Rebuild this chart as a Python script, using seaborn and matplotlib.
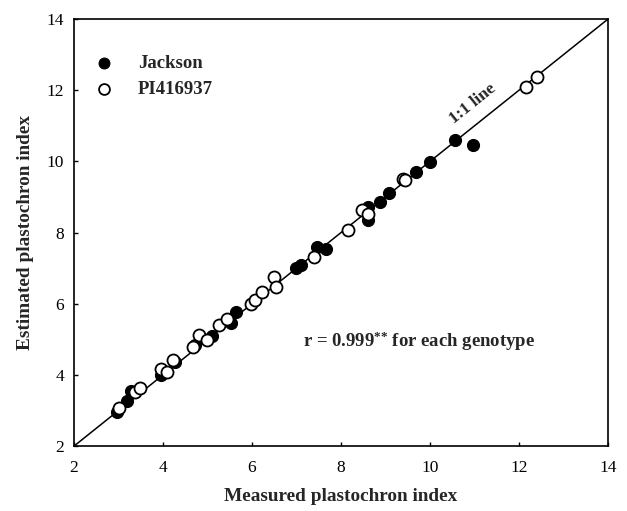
import matplotlib
matplotlib.use("Agg")
import matplotlib.pyplot as plt
import seaborn as sns
import pandas as pd

# Data
jackson_measured = [2.97, 3.18, 3.29, 3.96, 4.28, 4.72, 5.10, 5.52, 5.63, 6.98, 7.11, 7.46, 7.66,
                    8.60, 8.60, 8.87, 9.07, 9.68, 10.00, 10.56, 10.97]
jackson_estimated = [2.96, 3.28, 3.55, 3.99, 4.36, 4.85, 5.10, 5.46, 5.77, 6.99, 7.08, 7.60, 7.55,
                     8.35, 8.72, 8.86, 9.11, 9.69, 9.98, 10.61, 10.47]
pi_measured = [3.02, 3.36, 3.49, 3.96, 4.08, 4.22, 4.67, 4.80, 4.98, 5.25, 5.43, 5.97, 6.06, 6.23,
               6.49, 6.53, 7.39, 8.15, 8.47, 8.60, 9.40, 9.44, 12.16, 12.39]
pi_estimated = [3.08, 3.52, 3.63, 4.17, 4.08, 4.41, 4.78, 5.11, 4.97, 5.39, 5.58, 5.98, 6.10, 6.33,
                6.75, 6.47, 7.31, 8.08, 8.64, 8.53, 9.50, 9.47, 12.09, 12.37]
series_names = ["Jackson", "PI416937"]
ticks = [2, 4, 6, 8, 10, 12, 14]

sns.set_style("ticks")
plt.rcParams["font.family"] = ["Liberation Serif", "DejaVu Serif"]
plt.rcParams["mathtext.fontset"] = "custom"
plt.rcParams["mathtext.rm"] = "Liberation Serif:bold"
plt.rcParams["mathtext.bf"] = "Liberation Serif:bold"
plt.rcParams["mathtext.it"] = "Liberation Serif:bold"

fig = plt.figure(figsize=(6.27, 5.11), dpi=100)
ax = fig.add_axes([0.118, 0.127, 0.852, 0.836])

dfj = pd.DataFrame({"x": jackson_measured, "y": jackson_estimated})
dfp = pd.DataFrame({"x": pi_measured, "y": pi_estimated})

ax.plot([2, 14], [2, 14], color="black", lw=1.1, zorder=1)

sns.scatterplot(data=dfj, x="x", y="y", ax=ax, color="black", edgecolor="black",
                s=75, linewidth=0.8, label=series_names[0], zorder=3)
sns.scatterplot(data=dfp, x="x", y="y", ax=ax, color="white", edgecolor="black",
                s=75, linewidth=1.3, label=series_names[1], zorder=4)

ax.set_xlim(2, 14)
ax.set_ylim(2, 14)
ax.set_xticks(ticks)
ax.set_yticks(ticks)
ax.set_xticklabels([str(t) for t in ticks])
ax.set_yticklabels([str(t) for t in ticks])
ax.tick_params(direction="in", length=3, width=1, labelsize=12.5, colors="black")
ax.tick_params(axis="x", pad=10)
ax.tick_params(axis="y", pad=7)
for sp in ax.spines.values():
    sp.set_visible(True)
    sp.set_linewidth(1.2)
    sp.set_color("black")

ax.set_xlabel("Measured plastochron index", fontsize=13.9, fontweight="bold", labelpad=9)
ax.set_ylabel("Estimated plastochron index", fontsize=13.9, fontweight="bold", labelpad=9)

ax.text(10.97, 11.62, "1:1 line", rotation=38.7, fontsize=12.5, fontweight="bold",
        ha="center", va="center", rotation_mode="anchor")
ax.text(7.15, 4.93, r"r = 0.999$^{{*}{*}}$ for each genotype", fontsize=13.5, fontweight="bold",
        ha="left", va="center")

leg = ax.legend(frameon=False, loc="upper left", bbox_to_anchor=(-0.01, 0.955),
                handletextpad=0.8, labelspacing=0.45, markerscale=0.9,
                prop={"weight": "bold", "size": 13.5})

fig.savefig("out.png", dpi=100)
